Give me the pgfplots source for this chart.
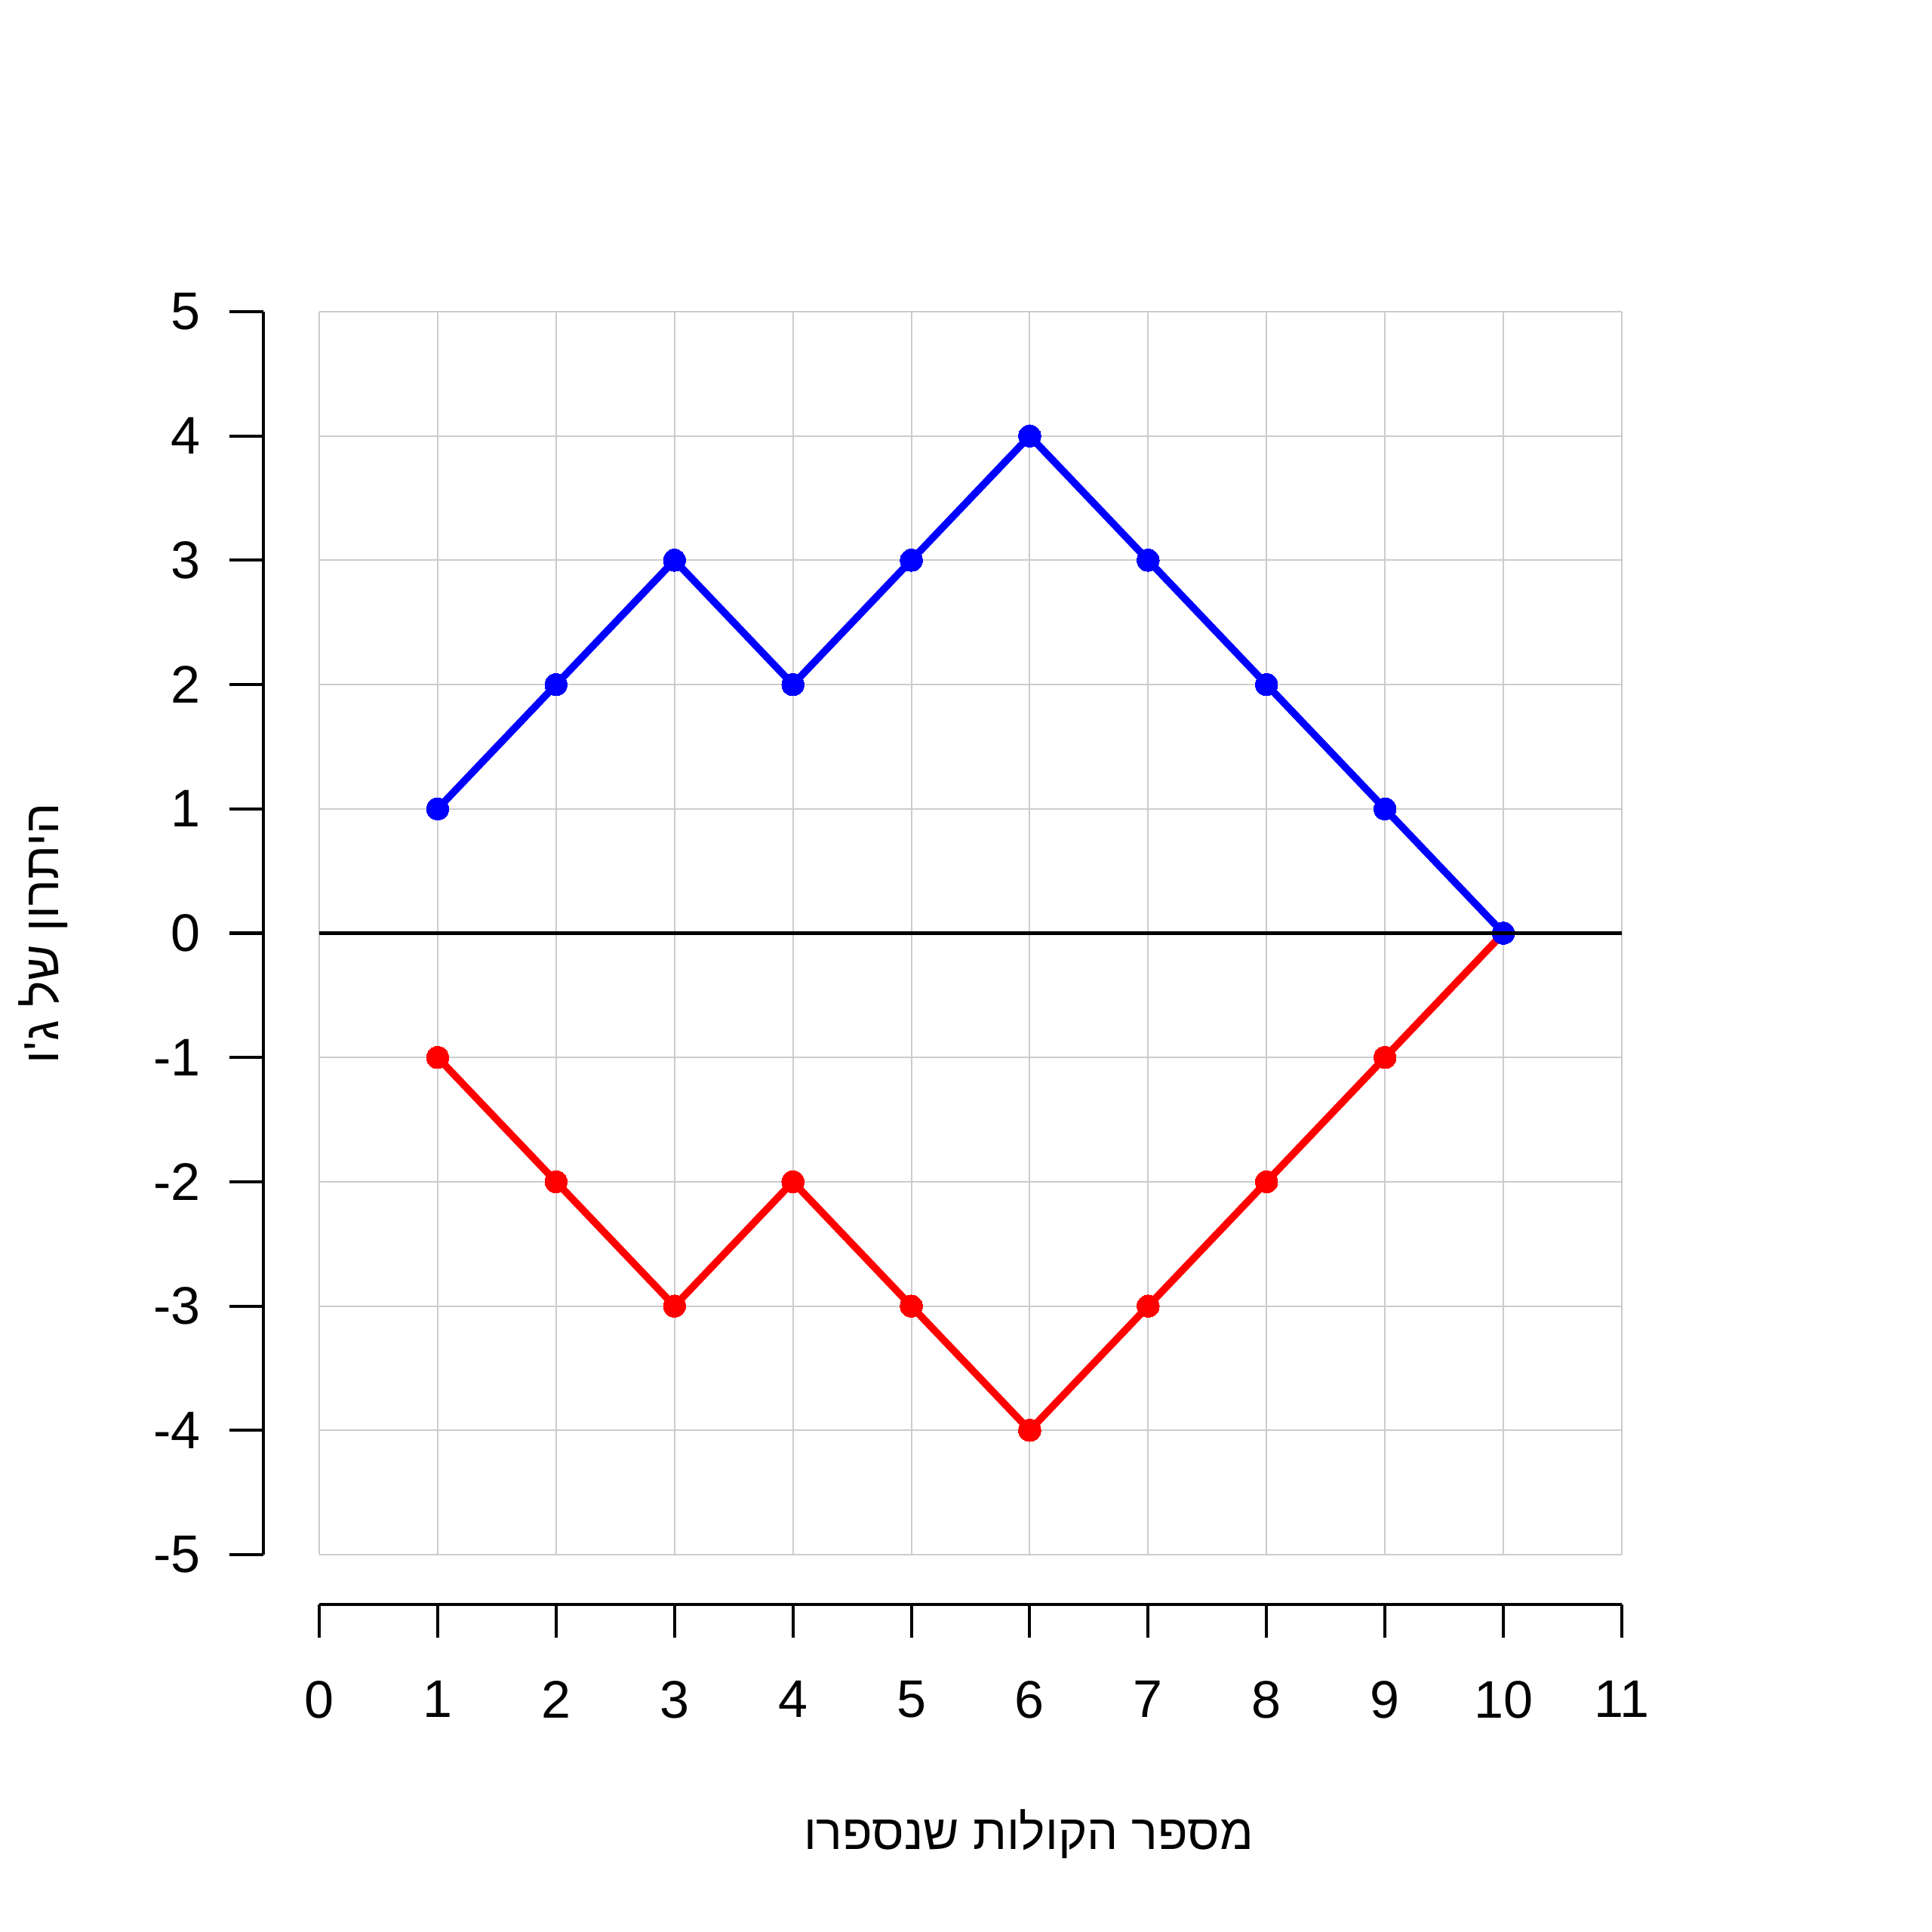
\documentclass[border=0pt]{standalone}
\usepackage{fontspec}
\setmainfont{Liberation Sans}
\newfontfamily\hebfont[Script=Hebrew, Ligatures=TeXOff]{Liberation Sans}
\TeXXeTstate=1
\usepackage{pgfplots}
\pgfplotsset{compat=1.18}
\newcommand{\lblfont}{\fontsize{13.8}{16.5}\selectfont}
\newcommand{\hlblfont}{\fontsize{12.8}{15.5}\selectfont}
\begin{document}
\begin{tikzpicture}
\path[use as bounding box] (0,0) rectangle (504pt,504pt);
% main plotting region
\begin{axis}[at={(83.28pt,98.44pt)}, anchor=south west, scale only axis,
  width=339.8pt, height=324.25pt,
  xmin=0, xmax=11, ymin=-5, ymax=5,
  xtick={0,...,11}, ytick={-5,...,5},
  xticklabels={,,}, yticklabels={,,},
  major tick length=0pt,
  axis line style={draw=none},
  grid=major, major grid style={draw=gray!40, line width=0.4pt},
  axis on top]
\addplot[color=red, line width=1.9pt, mark=*, mark size=2.9pt, mark options={solid, fill=red, draw=red, line width=0pt}]
  coordinates {(1,-1) (2,-2) (3,-3) (4,-2) (5,-3) (6,-4) (7,-3) (8,-2) (9,-1) (10,0)};
\addplot[color=blue, line width=1.9pt, mark=*, mark size=2.9pt, mark options={solid, fill=blue, draw=blue, line width=0pt}]
  coordinates {(1,1) (2,2) (3,3) (4,2) (5,3) (6,4) (7,3) (8,2) (9,1) (10,0)};
\end{axis}
% zero line above the grid
\begin{axis}[at={(83.28pt,98.44pt)}, anchor=south west, scale only axis,
  width=339.8pt, height=324.25pt,
  xmin=0, xmax=11, ymin=-5, ymax=5, hide axis]
\addplot[black, line width=0.9pt] coordinates {(0,0) (11,0)};
\end{axis}
% y axis (offset)
\begin{axis}[at={(68.71pt,98.44pt)}, anchor=south west, scale only axis,
  width=339.8pt, height=324.25pt,
  xmin=0, xmax=11, ymin=-5, ymax=5,
  axis x line=none, axis y line*=left,
  ytick={-5,...,5}, tick align=outside, major tick length=8.86pt,
  y axis line style={line width=0.8pt, black},
  tick style={line width=0.8pt, black},
  /pgf/number format/assume math mode=true,
  yticklabel style={font=\lblfont, anchor=east, xshift=-4pt},
  ylabel={\hebfont\beginR היתרון של ג'ו\endR},
  ylabel style={at={(axis description cs:-0.1576,0.5)}, anchor=base, font=\hlblfont}]
\addplot[draw=none] coordinates {(0,0)};
\end{axis}
% x axis (offset)
\begin{axis}[at={(83.28pt,85.44pt)}, anchor=south west, scale only axis,
  width=339.8pt, height=10pt,
  xmin=0, xmax=11, ymin=0, ymax=1,
  axis y line=none, axis x line*=bottom,
  xtick={0,...,11}, tick align=outside, major tick length=8.66pt,
  x axis line style={line width=0.8pt, black},
  tick style={line width=0.8pt, black},
  /pgf/number format/assume math mode=true,
  xticklabel style={font=\lblfont, anchor=north, yshift=-7.8pt},
  xlabel={\hebfont\beginR מספר הקולות שנספרו\endR},
  xlabel style={at={(axis description cs:0.5446,-6.378)}, anchor=base, font=\hlblfont}]
\addplot[draw=none] coordinates {(0,0)};
\end{axis}
\end{tikzpicture}
\end{document}
